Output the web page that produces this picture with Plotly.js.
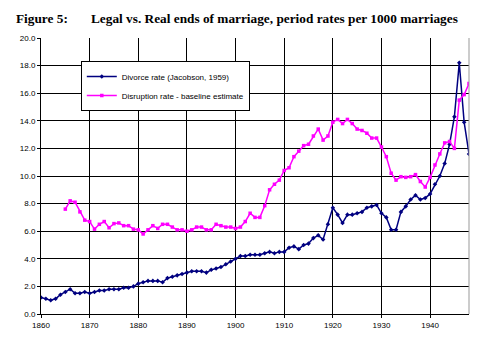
<!DOCTYPE html>
<html>
<head>
<meta charset="utf-8">
<script src="https://cdn.plot.ly/plotly-3.0.1.min.js"></script>
<style>html,body{margin:0;padding:0;background:#fff}#chart{width:485px;height:341px}</style>
</head>
<body>
<div id="chart"></div>
<script>
var divorceYears = [1860,1861,1862,1863,1864,1865,1866,1867,1868,1869,1870,1871,1872,1873,1874,1875,1876,1877,1878,1879,1880,1881,1882,1883,1884,1885,1886,1887,1888,1889,1890,1891,1892,1893,1894,1895,1896,1897,1898,1899,1900,1901,1902,1903,1904,1905,1906,1907,1908,1909,1910,1911,1912,1913,1914,1915,1916,1917,1918,1919,1920,1921,1922,1923,1924,1925,1926,1927,1928,1929,1930,1931,1932,1933,1934,1935,1936,1937,1938,1939,1940,1941,1942,1943,1944,1945,1946,1947,1948];
var divorceRate = [1.2,1.1,1.0,1.1,1.4,1.6,1.8,1.5,1.5,1.6,1.5,1.6,1.7,1.7,1.8,1.8,1.8,1.9,1.9,2.0,2.2,2.3,2.4,2.4,2.4,2.3,2.6,2.7,2.8,2.9,3.0,3.1,3.1,3.1,3.0,3.2,3.3,3.4,3.6,3.8,4.0,4.2,4.2,4.3,4.3,4.3,4.4,4.5,4.4,4.5,4.5,4.8,4.9,4.7,5.0,5.1,5.5,5.7,5.4,6.5,7.7,7.2,6.6,7.2,7.2,7.3,7.4,7.7,7.8,7.9,7.3,7.0,6.1,6.1,7.4,7.8,8.3,8.6,8.3,8.4,8.7,9.4,10.0,10.9,12.3,14.3,18.2,13.9,11.6];
var disruptionYears = [1865,1866,1867,1868,1869,1870,1871,1872,1873,1874,1875,1876,1877,1878,1879,1880,1881,1882,1883,1884,1885,1886,1887,1888,1889,1890,1891,1892,1893,1894,1895,1896,1897,1898,1899,1900,1901,1902,1903,1904,1905,1906,1907,1908,1909,1910,1911,1912,1913,1914,1915,1916,1917,1918,1919,1920,1921,1922,1923,1924,1925,1926,1927,1928,1929,1930,1931,1932,1933,1934,1935,1936,1937,1938,1939,1940,1941,1942,1943,1944,1945,1946,1947,1948];
var disruptionRate = [7.6,8.2,8.1,7.4,6.8,6.7,6.15,6.5,6.7,6.25,6.55,6.6,6.4,6.4,6.15,6.1,5.8,6.1,6.4,6.2,6.5,6.5,6.3,6.1,6.1,6.0,6.1,6.3,6.3,6.1,6.1,6.5,6.4,6.3,6.3,6.2,6.3,6.7,7.3,7.0,7.0,7.85,9.0,9.4,9.7,10.4,10.6,11.4,11.8,12.2,12.3,12.9,13.4,12.6,12.9,13.9,14.1,13.8,14.1,13.8,13.4,13.3,13.1,12.75,12.75,12.1,11.4,10.2,9.7,9.95,9.9,9.95,10.1,9.6,9.2,9.9,10.8,11.6,12.4,12.5,12.0,15.5,15.9,16.7];
var seriesNames = ["Divorce rate (Jacobson, 1959)", "Disruption rate - baseline estimate"];
var yTickVals = [0,2,4,6,8,10,12,14,16,18,20];
var xTickVals = [1860,1870,1880,1890,1900,1910,1920,1930,1940];

var traces = [
  {x: divorceYears, y: divorceRate, name: seriesNames[0], type: 'scatter', mode: 'lines+markers',
   line: {color: '#000080', width: 1.5}, marker: {symbol: 'diamond', size: 3.5, color: '#000080'}},
  {x: disruptionYears, y: disruptionRate, name: seriesNames[1], type: 'scatter', mode: 'lines+markers',
   line: {color: '#ff00ff', width: 1.5}, marker: {symbol: 'square', size: 3.5, color: '#ff00ff'}}
];

var layout = {
  width: 485, height: 341,
  margin: {l: 41, r: 16, t: 38, b: 27, pad: 0},
  paper_bgcolor: '#fff', plot_bgcolor: '#fff',
  font: {family: 'Liberation Sans, Arial, sans-serif', size: 8, color: '#000'},
  showlegend: true,
  legend: {x: 0.093, y: 0.917, xanchor: 'left', yanchor: 'top', bgcolor: '#fff',
           bordercolor: '#000', borderwidth: 1, font: {size: 8, family: 'Liberation Sans, Arial, sans-serif'}},
  xaxis: {range: [1860, 1948], tickvals: xTickVals, ticktext: xTickVals.map(String),
          showgrid: true, gridcolor: '#000', gridwidth: 1, zeroline: false,
          showline: true, linecolor: '#000', linewidth: 1, ticks: 'outside', ticklen: 3, tickcolor: '#000',
          tickfont: {size: 8}},
  yaxis: {range: [0, 20], tickvals: yTickVals, ticktext: yTickVals.map(function(v){return v.toFixed(1);}),
          showgrid: true, gridcolor: '#000', gridwidth: 1, zeroline: false,
          showline: true, linecolor: '#000', linewidth: 1, ticks: 'outside', ticklen: 3, tickcolor: '#000',
          tickfont: {size: 8}},
  shapes: [{type: 'line', xref: 'paper', yref: 'paper', x0: 1, x1: 1, y0: 0, y1: 1, line: {color: '#999', width: 1}}],
  annotations: [
    {xref: 'paper', yref: 'paper', x: -0.063, y: 1.07, xanchor: 'left', yanchor: 'middle', showarrow: false,
     text: '<b>Figure 5:</b>', font: {family: 'Liberation Serif, Times New Roman, serif', size: 13.3, color: '#000'}},
    {xref: 'paper', yref: 'paper', x: 0.113, y: 1.07, xanchor: 'left', yanchor: 'middle', showarrow: false,
     text: '<b>Legal vs. Real ends of marriage, period rates per 1000 marriages</b>', font: {family: 'Liberation Serif, Times New Roman, serif', size: 13.3, color: '#000'}}
  ]
};
Plotly.newPlot('chart', traces, layout, {displayModeBar: false, staticPlot: true});
</script>
</body>
</html>
